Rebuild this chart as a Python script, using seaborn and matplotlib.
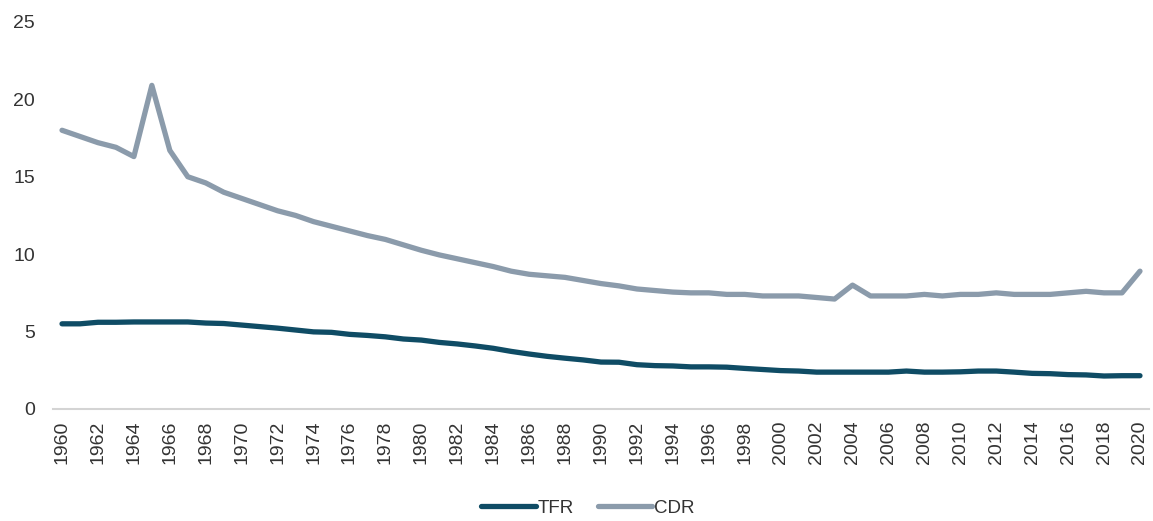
import matplotlib
matplotlib.use("Agg")
import matplotlib.pyplot as plt
import seaborn as sns
import pandas as pd

years = list(range(1960, 2021))

tfr = [5.50, 5.50, 5.60, 5.60, 5.62, 5.62, 5.62, 5.62, 5.55, 5.52,
       5.42, 5.32, 5.22, 5.10, 4.98, 4.95, 4.82, 4.75, 4.66, 4.52,
       4.45, 4.30, 4.20, 4.07, 3.92, 3.72, 3.55, 3.40, 3.28, 3.17,
       3.03, 3.02, 2.86, 2.80, 2.78, 2.72, 2.72, 2.70, 2.62, 2.55,
       2.48, 2.45, 2.38, 2.38, 2.38, 2.38, 2.38, 2.45, 2.38, 2.38,
       2.40, 2.45, 2.45, 2.38, 2.30, 2.28, 2.22, 2.20, 2.13, 2.15,
       2.15]

cdr = [18.0, 17.6, 17.2, 16.9, 16.3, 20.9, 16.7, 15.0, 14.6, 14.0,
       13.6, 13.2, 12.8, 12.5, 12.1, 11.8, 11.5, 11.2, 10.95, 10.6,
       10.25, 9.95, 9.7, 9.45, 9.2, 8.9, 8.7, 8.6, 8.5, 8.3,
       8.1, 7.95, 7.75, 7.65, 7.55, 7.5, 7.5, 7.4, 7.4, 7.3,
       7.3, 7.3, 7.2, 7.1, 8.0, 7.3, 7.3, 7.3, 7.4, 7.3,
       7.4, 7.4, 7.5, 7.4, 7.4, 7.4, 7.5, 7.6, 7.5, 7.5,
       8.9]

series_names = ["TFR", "CDR"]
colors = {"TFR": "#0f4c65", "CDR": "#8b9bab"}

df = pd.DataFrame({
    "year": years * 2,
    "value": tfr + cdr,
    "series": ["TFR"] * len(years) + ["CDR"] * len(years),
})

sns.set_theme(style="white")
plt.rcParams["font.family"] = ["Liberation Sans", "DejaVu Sans"]

fig = plt.figure(figsize=(11.53, 5.21), dpi=100)
ax = fig.add_axes([0.046, 0.215, 0.9505, 0.743])

sns.lineplot(data=df, x="year", y="value", hue="series", hue_order=series_names,
             palette=colors, linewidth=3.8, ax=ax, legend=False)

ax.set_xlim(1959.5, 2020.5)
ax.set_ylim(0, 25)
ax.set_yticks([0, 5, 10, 15, 20, 25])
ax.set_xticks(years[::2])
ax.set_xticklabels([str(y) for y in years[::2]], rotation=90)
ax.set_xlabel("")
ax.set_ylabel("")

for side in ["top", "right", "left"]:
    ax.spines[side].set_visible(False)
ax.spines["bottom"].set_color("#d4d4d4")
ax.spines["bottom"].set_linewidth(1.5)

ax.tick_params(axis="y", length=0, pad=13, labelsize=14, labelcolor="#333333")
ax.tick_params(axis="x", length=0, pad=8.5, labelsize=14, labelcolor="#333333")

handles = [plt.Line2D([], [], color=colors[s], linewidth=3.8) for s in series_names]
fig.legend(handles, series_names, loc="center", bbox_to_anchor=(0.51, 0.025),
           ncol=2, frameon=False, fontsize=13.5, handlelength=2.9,
           handletextpad=0.1, columnspacing=1.3, labelcolor="#333333")

fig.savefig("out.png", dpi=100)
